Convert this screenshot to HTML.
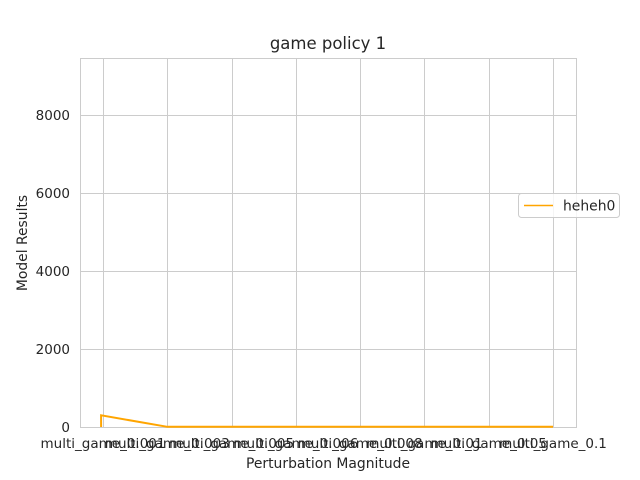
<!DOCTYPE html>
<html><head><meta charset="utf-8"><style>
body{margin:0;background:#fff;}
svg{display:block;font-family:"DejaVu Sans","Liberation Sans",sans-serif;}
</style></head><body>
<svg id="chart" width="640" height="480" viewBox="0 0 640 480">
<rect width="640" height="480" fill="#fff"/>
<text x="328" y="49" text-anchor="middle" font-size="16.5" fill="#262626">game policy 1</text>
<g id="grid"></g>
<rect x="80.5" y="58.5" width="496" height="369" fill="none" stroke="#cccccc" stroke-width="1"/>
<g id="xticks"></g><g id="yticks"></g>
<g id="series"></g>
<text x="328" y="468" text-anchor="middle" font-size="13.9" fill="#262626">Perturbation Magnitude</text>
<text transform="translate(27,243) rotate(-90)" text-anchor="middle" font-size="13.9" fill="#262626">Model Results</text>
<g>
<rect x="518.5" y="193.5" width="101" height="24" rx="3" fill="#fff" fill-opacity="0.8" stroke="#cccccc"/>
<line x1="524" y1="205.5" x2="553" y2="205.5" stroke="#ffa500" stroke-width="1.5"/>
<text x="563" y="210.5" font-size="13.9" fill="#262626">heheh0</text>
</g>
</svg>
<script>
const categories=["multi_game_0.001","multi_game_0.003","multi_game_0.005","multi_game_0.006","multi_game_0.008","multi_game_0.01","multi_game_0.05","multi_game_0.1"];
const pointCats=[-0.03,-0.03,1,2,3,4,5,6,7];
const pointValues=[0,300,5,5,5,5,5,5,5];
const yTicks=[0,2000,4000,6000,8000];
const yMax=9460;
const NS="http://www.w3.org/2000/svg";
const L=80,R=576,T=58,B=427;
function xs(i){return 103+i*(553-103)/(categories.length-1);}
function ys(v){return B-(v/yMax)*(B-T);}
function mk(tag,attrs,parent){const e=document.createElementNS(NS,tag);for(const k in attrs)e.setAttribute(k,attrs[k]);parent.appendChild(e);return e;}
const grid=document.getElementById('grid'),xt=document.getElementById('xticks'),yt=document.getElementById('yticks'),ser=document.getElementById('series');
categories.forEach((c,i)=>{
 const x=Math.round(xs(i))+0.5;
 const g=mk('line',{x1:x,x2:x,y1:T,y2:B,stroke:'#cccccc'},grid);
 
 
 const t=mk('text',{x:xs(i),y:448,'text-anchor':'middle','font-size':'13.5',fill:'#262626'},xt);
 t.textContent=c;
 
 
});
yTicks.forEach(v=>{
 const y=Math.round(ys(v))+0.5;
 const g=mk('line',{x1:L,x2:R,y1:y,y2:y,stroke:'#cccccc'},grid);
 
 
 const t=mk('text',{x:70,y:ys(v)+5,'text-anchor':'end','font-size':'13.5',fill:'#262626'},yt);
 t.textContent=String(v);
 
 
});
const pts=pointCats.map((c,i)=>xs(c).toFixed(1)+','+ys(pointValues[i]).toFixed(1)).join(' ');
const pl=mk('polyline',{points:pts,fill:'none',stroke:'#ffa500','stroke-width':'2'},ser);


</script>
</body></html>
